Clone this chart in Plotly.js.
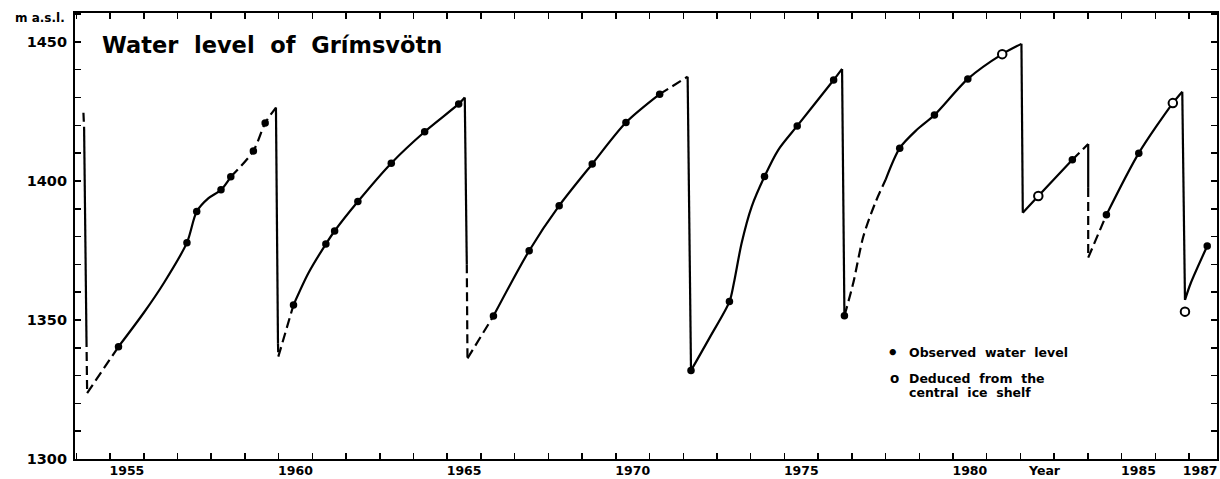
<!DOCTYPE html>
<html><head><meta charset="utf-8">
<script src="https://cdn.plot.ly/plotly-3.0.1.min.js"></script>
<style>html,body{margin:0;padding:0;background:#fff}#chart{width:1220px;height:479px}</style>
</head><body><div id="chart"></div>
<script>
// ---- Data (year, metres above sea level) ----
// Curve reaches drawn as solid lines (rising limbs)
const solidRiseYears  = [1955.25,1956.0,1956.6,1957.28,1957.57,1957.92,1958.29,1958.58, null,
  1960.44,1960.88,1961.4,1961.66,1962.35,1963.34,1964.33,1965.34,1965.52, null,
  1966.37,1967.43,1968.32,1969.3,1970.3,1971.3, null,
  1972.23,1972.8,1973.37,1973.5,1973.73,1974.03,1974.41,1974.82,1975.38,1976.46,1976.71, null,
  1978.0,1978.42,1978.92,1979.45,1980.44,1981.46,1982.03, null,
  1982.07,1982.53,1983.54, null,
  1984.55,1985.51,1986.52,1986.8, null,
  1986.88,1987.05,1987.54];
const solidRiseLevels = [1340.4,1352.6,1363.4,1377.8,1389.0,1393.8,1396.8,1401.5, null,
  1355.4,1366.8,1377.3,1382.0,1392.6,1406.4,1417.7,1427.7,1430.0, null,
  1351.4,1374.9,1391.1,1406.1,1421.0,1431.2, null,
  1331.8,1344.0,1356.6,1363.2,1377.6,1390.8,1401.6,1411.2,1419.8,1436.3,1440.3, null,
  1400.4,1411.8,1418.3,1423.7,1436.7,1445.6,1449.3, null,
  1388.6,1394.6,1407.6, null,
  1387.8,1410.0,1428.0,1432.1, null,
  1357.2,1363.2,1376.6];
// Curve reaches drawn as dashed lines (inferred rising limbs)
const dashedRiseYears  = [1954.32,1955.25, null, 1958.58,1959.25,1959.6,1959.92, null,
  1959.99,1960.44, null, 1965.6,1966.37, null, 1971.3,1972.13, null,
  1976.78,1977.04,1977.34,1977.69,1978.0, null, 1983.54,1984.01, null, 1984.01,1984.55];
const dashedRiseLevels = [1323.7,1340.4, null, 1401.5,1410.8,1420.8,1426.4, null,
  1336.8,1355.4, null, 1336.2,1351.4, null, 1431.2,1437.5, null,
  1351.5,1363.2,1380.0,1392.0,1400.4, null, 1407.6,1413.3, null, 1372.4,1387.8];
// Jökulhlaup drops, solid parts
const solidDropYears  = [1954.23,1954.30, null, 1959.92,1959.98, null, 1965.52,1965.58, null,
  1972.13,1972.23, null, 1976.71,1976.78, null, 1982.03,1982.07, null,
  1984.01,1984.01, null, 1986.8,1986.88];
const solidDropLevels = [1419.0,1343.5, null, 1426.4,1341.6, null, 1430.0,1370.0, null,
  1437.5,1331.8, null, 1440.3,1351.5, null, 1449.3,1388.6, null,
  1413.3,1397.5, null, 1432.1,1357.2];
// Jökulhlaup drops, dashed parts
const dashedDropYears  = [1954.21,1954.23, null, 1954.30,1954.32, null, 1959.98,1959.99, null,
  1965.58,1965.6, null, 1984.01,1984.01];
const dashedDropLevels = [1424.5,1419.0, null, 1343.5,1323.7, null, 1341.6,1336.8, null,
  1370.0,1336.2, null, 1397.5,1372.4];
// Observed water level (filled dots)
const observedYears  = [1955.25,1957.28,1957.57,1958.29,1958.58,1959.25,1959.6,
  1960.44,1961.4,1961.66,1962.35,1963.34,1964.33,1965.34,
  1966.37,1967.43,1968.32,1969.3,1970.3,1971.3,
  1972.23,1973.37,1974.41,1975.38,1976.46,
  1976.78,1978.42,1979.45,1980.44,1983.54,1984.55,1985.51,1987.54];
const observedLevels = [1340.4,1377.8,1389.0,1396.8,1401.5,1410.8,1420.8,
  1355.4,1377.3,1382.0,1392.6,1406.4,1417.7,1427.7,
  1351.4,1374.9,1391.1,1406.1,1421.0,1431.2,
  1331.8,1356.6,1401.6,1419.8,1436.3,
  1351.5,1411.8,1423.7,1436.7,1407.6,1387.8,1410.0,1376.6];
// Deduced from the central ice shelf (open circles)
const deducedYears  = [1981.46,1982.53,1986.52,1986.88];
const deducedLevels = [1445.6,1394.6,1428.0,1353.0];
// Axis labels
const xLabelYears = [1955,1960,1965,1970,1975,1980,1985,1987];
const xLabelTexts = ['1955','1960','1965','1970','1975','1980','1985','1987'];
const yLabelValues = [1300,1350,1400,1450];
const yLabelTexts = ['1300','1350','1400','1450'];

// ---- Styling ----
const FONT = 'DejaVu Sans, Liberation Sans, Arial, sans-serif';
const BLACK = '#000';
const X_RANGE = [1953.96, 1987.83];
const Y_RANGE = [1300, 1460.4];
const L = 75, R = 1217, T = 13, B = 459;
const px = v => (v - L) / (R - L);
const py = v => (B - v) / (B - T);

const lineBase = {type:'scatter', mode:'lines', hoverinfo:'skip', showlegend:false, connectgaps:false};
const traces = [
  Object.assign({}, lineBase, {x: solidRiseYears, y: solidRiseLevels,
    line:{color:BLACK, width:2.2, shape:'spline', smoothing:0.8}}),
  Object.assign({}, lineBase, {x: dashedRiseYears, y: dashedRiseLevels,
    line:{color:BLACK, width:2.2, shape:'spline', smoothing:0.8, dash:'10px,5px'}}),
  Object.assign({}, lineBase, {x: solidDropYears, y: solidDropLevels,
    line:{color:BLACK, width:2.2}}),
  Object.assign({}, lineBase, {x: dashedDropYears, y: dashedDropLevels,
    line:{color:BLACK, width:2.2, dash:'9px,5px'}}),
  {type:'scatter', mode:'markers', x: observedYears, y: observedLevels, showlegend:false,
    marker:{color:BLACK, size:7.5, line:{width:0}}},
  {type:'scatter', mode:'markers', x: deducedYears, y: deducedLevels, showlegend:false,
    marker:{color:'#fff', size:8.5, line:{color:BLACK, width:2}}},
  {type:'scatter', mode:'markers', x: [], y: [], xaxis:'x2', yaxis:'y2', showlegend:false}
];

const ann = (text, x, y, size, xanchor, extra) => Object.assign({
  text, xref:'paper', yref:'paper', x: px(x), y: py(y), xanchor: xanchor || 'left', yanchor:'middle',
  showarrow:false, font:{family:FONT, size, color:BLACK, weight:'bold'}}, extra || {});

const NB = '&nbsp;';
// label centred in the middle of its year, kept inside the page at the right edge
const xLabelPos = xLabelYears.map(v => Math.min(v + 0.5, 1987.33));

const layout = {
  width:1220, height:479, margin:{l:L, r:1220-R, t:T, b:479-B},
  paper_bgcolor:'#fff', plot_bgcolor:'#fff', showlegend:false,
  xaxis:{range:X_RANGE, tick0:1954, dtick:1, ticks:'inside', ticklen:6, tickwidth:1.5, tickcolor:BLACK,
    showticklabels:false, showline:true, linewidth:2, linecolor:BLACK, mirror:'ticks',
    showgrid:false, zeroline:false, fixedrange:true},
  yaxis:{range:Y_RANGE, tick0:1300, dtick:10, ticks:'inside', ticklen:6, tickwidth:1.5, tickcolor:BLACK,
    showticklabels:false, showline:true, linewidth:2, linecolor:BLACK, mirror:'ticks',
    showgrid:false, zeroline:false, fixedrange:true},
  xaxis2:{range:X_RANGE, overlaying:'x', anchor:'y2', side:'bottom', ticks:'', showline:false,
    showgrid:false, zeroline:false, tickmode:'array', ticklabeloverflow:'allow',
    tickvals: xLabelPos, ticktext: xLabelTexts,
    tickfont:{family:FONT, size:12.5, color:BLACK, weight:'bold'}, ticklabelstandoff:2},
  yaxis2:{range:Y_RANGE, overlaying:'y', anchor:'x2', side:'left', ticks:'', showline:false,
    showgrid:false, zeroline:false, tickmode:'array', tickvals: yLabelValues, ticktext: yLabelTexts,
    ticklabeloverflow:'allow',
    tickfont:{family:FONT, size:14.5, color:BLACK, weight:'bold'}, ticklabelstandoff:7},
  annotations:[
    ann('Water'+NB+NB+'level'+NB+NB+'of'+NB+NB+'Grímsvötn', 100, 45, 22.5, 'left'),
    ann('m'+NB+'a.s.l.', 67, 18, 12, 'right'),
    ann('Year', 1044, 470, 12.5, 'center'),
    ann('•', 893, 352, 18, 'center'),
    ann('Observed'+NB+NB+'water'+NB+NB+'level', 907, 352, 12.5, 'left'),
    ann('o', 894, 378, 13.5, 'center'),
    ann('Deduced'+NB+NB+'from'+NB+NB+'the', 907, 378, 12.5, 'left'),
    ann('central'+NB+NB+'ice'+NB+NB+'shelf', 907, 392, 12.5, 'left')
  ]
};

Plotly.newPlot('chart', traces, layout, {staticPlot:true, displayModeBar:false});
</script></body></html>
